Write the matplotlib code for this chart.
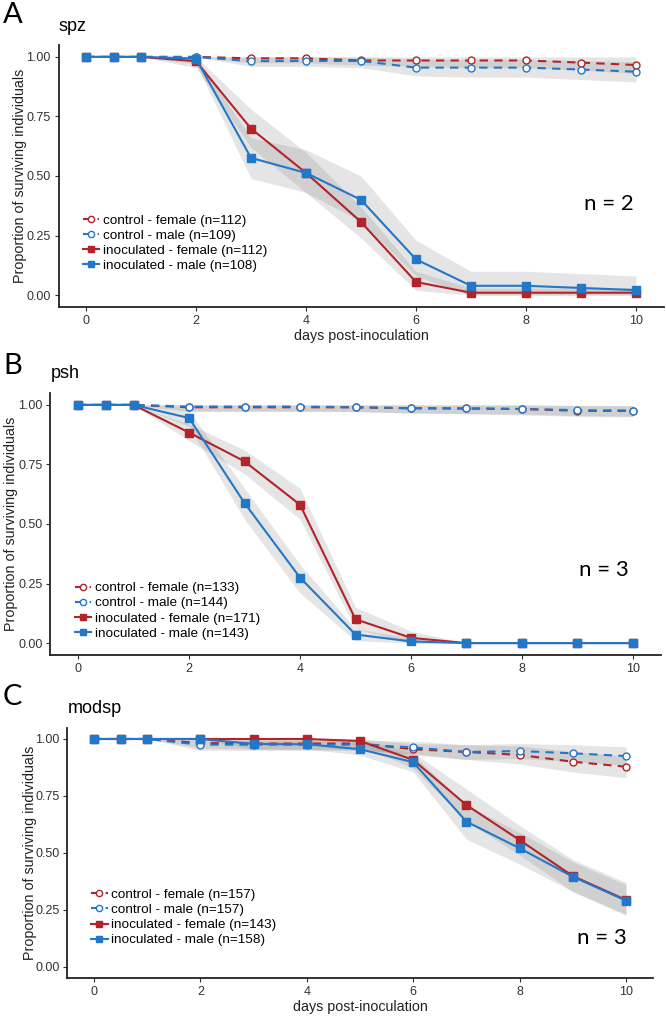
import matplotlib
matplotlib.use("Agg")
import matplotlib.pyplot as plt
from matplotlib.lines import Line2D

days = [0, 0.5, 1, 2, 3, 4, 5, 6, 7, 8, 9, 10]

# panel A - spz
a_ctrl_f = [1, 1, 1, 1.0, 0.994, 0.994, 0.985, 0.985, 0.985, 0.985, 0.976, 0.966]
a_ctrl_m = [1, 1, 1, 1.0, 0.982, 0.983, 0.983, 0.955, 0.955, 0.955, 0.947, 0.938]
a_inoc_f = [1, 1, 1, 0.982, 0.699, 0.513, 0.307, 0.055, 0.01, 0.01, 0.01, 0.01]
a_inoc_m = [1, 1, 1, 0.993, 0.576, 0.513, 0.40, 0.15, 0.039, 0.039, 0.03, 0.021]
a_ctrl_f_lo = [1, 1, 1, 1, 0.975, 0.975, 0.965, 0.96, 0.955, 0.955, 0.945, 0.93]
a_ctrl_f_hi = [1, 1, 1, 1, 1, 1, 1, 1, 1, 1, 1, 1]
a_ctrl_m_lo = [1, 1, 1, 1, 0.96, 0.96, 0.955, 0.92, 0.915, 0.915, 0.905, 0.895]
a_ctrl_m_hi = [1, 1, 1, 1, 1, 1, 1, 0.99, 0.99, 0.99, 0.985, 0.98]
a_inoc_f_lo = [1, 1, 1, 0.955, 0.62, 0.43, 0.24, 0.02, 0, 0, 0, 0]
a_inoc_f_hi = [1, 1, 1, 1, 0.78, 0.60, 0.37, 0.10, 0.03, 0.03, 0.03, 0.03]
a_inoc_m_lo = [1, 1, 1, 0.97, 0.49, 0.43, 0.31, 0.08, 0, 0, 0, 0]
a_inoc_m_hi = [1, 1, 1, 1, 0.66, 0.61, 0.50, 0.23, 0.10, 0.10, 0.09, 0.08]
a_labels = ["control - female (n=112)", "control - male (n=109)",
            "inoculated - female (n=112)", "inoculated - male (n=108)"]

# panel B - psh
b_ctrl_f = [1, 1, 1, 0.99, 0.99, 0.99, 0.99, 0.986, 0.985, 0.983, 0.975, 0.975]
b_ctrl_m = [1, 1, 1, 0.993, 0.993, 0.993, 0.99, 0.986, 0.985, 0.983, 0.978, 0.976]
b_inoc_f = [1, 1, 1, 0.884, 0.763, 0.581, 0.10, 0.022, 0, 0, 0, 0]
b_inoc_m = [1, 1, 1, 0.945, 0.588, 0.275, 0.036, 0.007, 0, 0, 0, 0]
b_ctrl_f_lo = [1, 1, 1, 0.972, 0.972, 0.972, 0.972, 0.966, 0.962, 0.958, 0.952, 0.95]
b_ctrl_f_hi = [1, 1, 1, 1, 1, 1, 1, 1, 1, 1, 0.997, 0.997]
b_ctrl_m_lo = [1, 1, 1, 0.975, 0.975, 0.975, 0.972, 0.966, 0.964, 0.962, 0.955, 0.952]
b_ctrl_m_hi = [1, 1, 1, 1, 1, 1, 1, 1, 1, 1, 0.998, 0.997]
b_inoc_f_lo = [1, 1, 1, 0.85, 0.71, 0.52, 0.06, 0.0, 0, 0, 0, 0]
b_inoc_f_hi = [1, 1, 1, 0.92, 0.81, 0.65, 0.15, 0.05, 0, 0, 0, 0]
b_inoc_m_lo = [1, 1, 1, 0.91, 0.52, 0.21, 0.01, 0, 0, 0, 0, 0]
b_inoc_m_hi = [1, 1, 1, 0.975, 0.65, 0.33, 0.06, 0.02, 0, 0, 0, 0]
b_labels = ["control - female (n=133)", "control - male (n=144)",
            "inoculated - female (n=171)", "inoculated - male (n=143)"]

# panel C - modsp
c_ctrl_f = [1, 1, 1, 0.982, 0.98, 0.98, 0.98, 0.955, 0.943, 0.93, 0.90, 0.878]
c_ctrl_m = [1, 1, 1, 0.975, 0.975, 0.975, 0.975, 0.963, 0.943, 0.947, 0.937, 0.925]
c_inoc_f = [1, 1, 1, 1.0, 1.0, 1.0, 0.991, 0.908, 0.71, 0.556, 0.398, 0.293]
c_inoc_m = [1, 1, 1, 1.0, 0.978, 0.977, 0.955, 0.898, 0.637, 0.52, 0.395, 0.29]
c_ctrl_f_lo = [1, 1, 1, 0.96, 0.955, 0.955, 0.955, 0.93, 0.91, 0.89, 0.855, 0.83]
c_ctrl_f_hi = [1, 1, 1, 1, 1, 1, 1, 0.98, 0.975, 0.97, 0.945, 0.925]
c_ctrl_m_lo = [1, 1, 1, 0.95, 0.95, 0.95, 0.95, 0.935, 0.91, 0.915, 0.90, 0.885]
c_ctrl_m_hi = [1, 1, 1, 0.995, 0.995, 0.995, 0.995, 0.99, 0.975, 0.98, 0.975, 0.965]
c_inoc_f_lo = [1, 1, 1, 1, 1, 1, 0.975, 0.87, 0.64, 0.49, 0.33, 0.23]
c_inoc_f_hi = [1, 1, 1, 1, 1, 1, 1, 0.94, 0.78, 0.62, 0.47, 0.37]
c_inoc_m_lo = [1, 1, 1, 1, 0.955, 0.955, 0.93, 0.855, 0.56, 0.45, 0.33, 0.225]
c_inoc_m_hi = [1, 1, 1, 1, 0.995, 0.995, 0.98, 0.93, 0.71, 0.59, 0.46, 0.36]
c_labels = ["control - female (n=157)", "control - male (n=157)",
            "inoculated - female (n=143)", "inoculated - male (n=158)"]

RED = "#B2232A"
BLUE = "#2377C8"
TXT = "Liberation Sans"
BIG = "Lato"

W, H = 666, 1016
fig = plt.figure(figsize=(W / 100, H / 100), dpi=100)

panels = [
    dict(letter="A", title="spz", n="n = 2", box=(58.5, 663.5, 45, 307),
         letter_y=15, title_y=31, ylab_x=27, xlabel=True, n_pos=(9.5, 0.384), leg_y=0.34,
         series=[(a_ctrl_f, a_ctrl_f_lo, a_ctrl_f_hi), (a_ctrl_m, a_ctrl_m_lo, a_ctrl_m_hi),
                 (a_inoc_f, a_inoc_f_lo, a_inoc_f_hi), (a_inoc_m, a_inoc_m_lo, a_inoc_m_hi)],
         labels=a_labels),
    dict(letter="B", title="psh", n="n = 3", box=(50.3, 660.7, 393, 655),
         letter_y=366, title_y=378, ylab_x=18, xlabel=False, n_pos=(9.48, 0.307), leg_y=0.257,
         series=[(b_ctrl_f, b_ctrl_f_lo, b_ctrl_f_hi), (b_ctrl_m, b_ctrl_m_lo, b_ctrl_m_hi),
                 (b_inoc_f, b_inoc_f_lo, b_inoc_f_hi), (b_inoc_m, b_inoc_m_lo, b_inoc_m_hi)],
         labels=b_labels),
    dict(letter="C", title="modsp", n="n = 3", box=(67.4, 652.6, 727.6, 978),
         letter_y=697, title_y=713, ylab_x=37, xlabel=True, n_pos=(9.55, 0.124), leg_y=0.343,
         series=[(c_ctrl_f, c_ctrl_f_lo, c_ctrl_f_hi), (c_ctrl_m, c_ctrl_m_lo, c_ctrl_m_hi),
                 (c_inoc_f, c_inoc_f_lo, c_inoc_f_hi), (c_inoc_m, c_inoc_m_lo, c_inoc_m_hi)],
         labels=c_labels),
]

styles = [
    dict(color=RED, ls=(0, (4, 3)), marker="o", mfc="white", ms=5),
    dict(color=BLUE, ls=(0, (4, 3)), marker="o", mfc="white", ms=5),
    dict(color=RED, ls="-", marker="s", mfc=RED, ms=5.5),
    dict(color=BLUE, ls="-", marker="s", mfc=BLUE, ms=5.5),
]

for p in panels:
    l, r, t, b = p["box"]
    ax = fig.add_axes([l / W, 1 - b / H, (r - l) / W, (b - t) / H])

    for vals, lo, hi in p["series"]:
        ax.fill_between(days, lo, hi, color="grey", alpha=0.2, lw=0)
    handles = []
    for (vals, lo, hi), st, lab in zip(p["series"], styles, p["labels"]):
        ax.plot(days, vals, color=st["color"], ls=st["ls"], lw=1.5,
                marker=st["marker"], mfc=st["mfc"], mec=st["color"],
                ms=st["ms"], mew=1.0)
        handles.append(Line2D([], [], color=st["color"], ls=st["ls"], lw=1.5,
                              marker=st["marker"], mfc=st["mfc"], mec=st["color"],
                              ms=st["ms"] - 0.5, mew=1.0, label=lab))

    ax.set_xlim(-0.5, 10.5)
    ax.set_ylim(-0.05, 1.05)
    ax.set_xticks([0, 2, 4, 6, 8, 10])
    ax.set_yticks([0, 0.25, 0.5, 0.75, 1.0])
    ax.set_yticklabels(["0.00", "0.25", "0.50", "0.75", "1.00"])
    for s in ["top", "right"]:
        ax.spines[s].set_visible(False)
    for s in ["left", "bottom"]:
        ax.spines[s].set_linewidth(1.3)
        ax.spines[s].set_color("#222222")
    ax.tick_params(length=3, width=0.8, color="#333333", labelsize=9,
                   labelcolor="#333333", pad=2.5)
    for lbl in ax.get_xticklabels() + ax.get_yticklabels():
        lbl.set_fontfamily(TXT)

    ax.set_ylabel("Proportion of surviving individuals", fontsize=10.3,
                  family=TXT, color="#222222")
    ax.yaxis.set_label_coords(p["ylab_x"] / W, 1 - (t + b) / 2 / H,
                              transform=fig.transFigure)
    if p["xlabel"]:
        ax.set_xlabel("days post-inoculation", fontsize=10.3, family=TXT,
                      color="#222222", labelpad=2)

    leg = ax.legend(handles=handles, loc="upper left",
                    bbox_to_anchor=(-0.05, p["leg_y"]), bbox_transform=ax.transData,
                    frameon=False, prop=dict(family=TXT, size=9.7),
                    handlelength=1.2, handletextpad=0.25, labelspacing=0.2,
                    borderpad=0, borderaxespad=0)

    ax.text(p["n_pos"][0], p["n_pos"][1], p["n"], ha="center", va="center",
            fontsize=16, family=BIG, color="black")

    fig.text(3 / W, 1 - p["letter_y"] / H, p["letter"], ha="left", va="center",
             fontsize=21, family=BIG)
    fig.text(l / W, 1 - p["title_y"] / H, p["title"], ha="left", va="baseline",
             fontsize=13, family=TXT)

fig.savefig("out.png", dpi=100)
